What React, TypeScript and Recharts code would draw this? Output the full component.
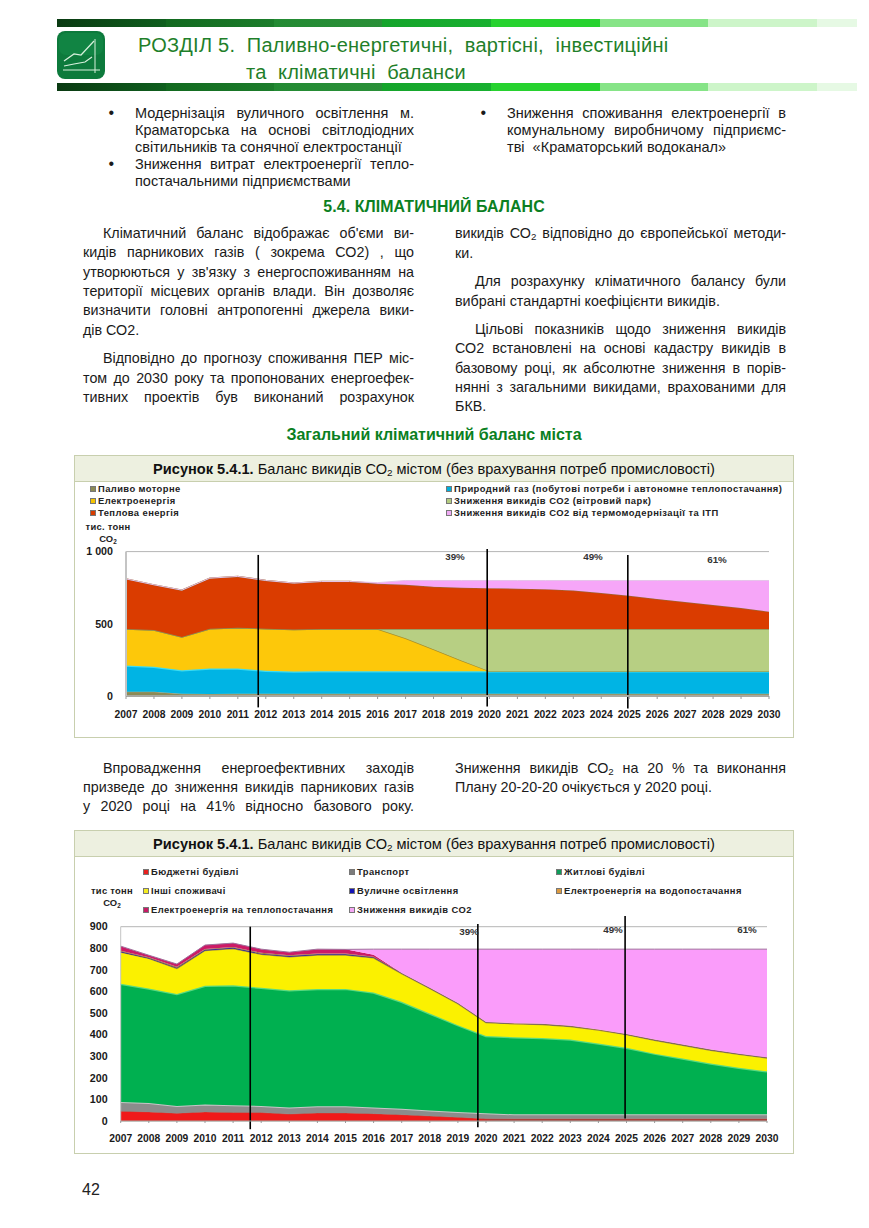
import React from 'react';
import { AreaChart, Area, XAxis, YAxis, CartesianGrid, ReferenceLine } from 'recharts';

const years = [2007,2008,2009,2010,2011,2012,2013,2014,2015,2016,2017,2018,2019,2020,2021,2022,2023,2024,2025,2026,2027,2028,2029,2030];

// Chart 1
const fuelMotor = [30,30,15,14,15,15,15,15,15,15,15,15,15,15,15,15,15,15,15,15,15,15,15,15];
const naturalGas = [181,172,164,176,175,160,155,157,157,157,157,157,157,157,157,157,157,157,157,157,157,157,157,157];
const electricity = [253,255,230,276,283,291,290,292,292,292,228,151,73,0,0,0,0,0,0,0,0,0,0,0];
const windCut = [0,0,0,0,0,0,0,0,0,0,64,141,219,292,292,292,292,292,292,292,292,292,292,292];
const heatEnergy = [347,313,324,350,355,334,322,329,329,313,306,292,286,283,279,276,267,249,230,207,187,166,145,120];
const thermoCut = [0,0,0,0,0,0,0,0,0,8,30,44,50,53,57,60,69,87,106,129,149,170,191,216];
const ticks1 = [0,500,1000];

// Chart 2
const budget = [45,42,36,42,39,39,32,37,37,34,29,23,17,11,10,10,10,10,10,10,10,10,10,10];
const transport = [43,41,34,34,34,31,30,31,31,29,28,26,25,25,21,21,21,21,21,21,21,21,21,21];
const residential = [548,531,518,550,556,547,544,543,544,532,495,449,402,358,357,354,346,328,308,281,258,235,216,199];
const others = [146,139,119,164,170,155,155,158,157,161,131,116,100,62,62,62,61,62,61,62,62,62,62,62];
const lighting = [3,2,3,3,3,3,3,3,3,2,1,1,1,1,1,1,1,1,1,1,1,1,1,1];
const waterPower = [4,3,4,4,4,4,4,4,4,3,2,2,2,2,2,2,2,2,2,2,2,2,2,2];
const heatPower = [21,10,13,18,18,17,14,20,19,9,0,0,0,0,0,0,0,0,0,0,0,0,0,0];
const totalCut = [0,0,0,0,0,0,0,0,0,26,110,179,249,337,343,346,355,372,393,419,442,465,484,501];
const ticks2 = [0,100,200,300,400,500,600,700,800,900];

const markers1 = [{ year: 2011.73, from: -79, to: 977 }, { year: 2019.92, from: -72, to: 1018 }, { year: 2024.95, from: -86, to: 977 }];
const markers2 = [{ year: 2011.61, from: -38, to: 900 }, { year: 2019.71, from: -29, to: 912 }, { year: 2024.95, from: 12, to: 949 }];

const rows1 = years.map((year, i) => ({ year, fuelMotor: fuelMotor[i], naturalGas: naturalGas[i], electricity: electricity[i], windCut: windCut[i], heatEnergy: heatEnergy[i], thermoCut: thermoCut[i] }));
const rows2 = years.map((year, i) => ({ year, budget: budget[i], transport: transport[i], residential: residential[i], others: others[i], lighting: lighting[i], waterPower: waterPower[i], heatPower: heatPower[i], totalCut: totalCut[i] }));

const SANS = '"Liberation Sans", Arial, sans-serif';
const xTick = { fontFamily: SANS, fontSize: 10.3, fontWeight: 700, fill: '#1a1a1a' };
const yTick = { fontFamily: SANS, fontSize: 10.7, fontWeight: 700, fill: '#1a1a1a' };
const BODY = 14.3;
const BULLET = 14.5;

const Sub = ({ children }: any) => <span style={{ fontSize: '68%', position: 'relative', top: '0.25em' }}>{children}</span>;

function T({ x, y, w, size = BODY, just = false, bold = false, color = '#1a1a1a', center = false, children, ls = 0 }: any) {
  return (
    <div style={{
      position: 'absolute', left: center ? x - 300 : x, top: y - 10, height: 20, lineHeight: '20px',
      width: center ? 600 : w, fontFamily: SANS, fontSize: size, fontWeight: bold ? 700 : 400, color,
      whiteSpace: just ? 'normal' : 'nowrap', textAlign: center ? 'center' : just ? 'justify' : 'left',
      textAlignLast: center ? 'center' : just ? 'justify' : 'left', letterSpacing: ls,
    }}>{children}</div>
  );
}

const barSegments = [
  { x: 57, w: 109, c: 'linear-gradient(90deg,#0a3a12,#0f5f1e)' },
  { x: 166, w: 108, c: 'linear-gradient(90deg,#12691f,#1c7d2b)' },
  { x: 274, w: 108, c: 'linear-gradient(90deg,#238a33,#2a9038)' },
  { x: 382, w: 109, c: 'linear-gradient(90deg,#15a42b,#18b030)' },
  { x: 491, w: 109, c: '#27d22f' },
  { x: 600, w: 108, c: '#86e487' },
  { x: 708, w: 109, c: '#cdf5c9' },
  { x: 817, w: 40, c: '#e6f9e4' },
];

function Bars({ y }: any) {
  return <>{barSegments.map((s) => <div key={s.x} style={{ position: 'absolute', left: s.x, top: y, width: s.w, height: 8, background: s.c }} />)}</>;
}

function Logo() {
  return (
    <svg style={{ position: 'absolute', left: 57, top: 31 }} width={48} height={48}>
      <rect x={0} y={0} width={48} height={48} rx={8} fill="#0d7a3c" />
      <rect x={2} y={2} width={44} height={22} rx={7} fill="#148a48" opacity={0.6} />
      <path d="M38 8 V42 M6 39 H43" stroke="#d8f0dc" strokeWidth={1} fill="none" />
      <path d="M7 30 L17 23 L24 24 L37 10" stroke="#d8f0dc" strokeWidth={1.2} fill="none" />
      <path d="M7 35 L17 33 L28 31 L35 26" stroke="#d8f0dc" strokeWidth={1.2} fill="none" />
    </svg>
  );
}

function Frame({ top, header, bottom, children }: any) {
  return (
    <>
      <div style={{ position: 'absolute', left: 74, top, width: 720, height: bottom - top, border: '1px solid #c8cfae', boxSizing: 'border-box' }} />
      <div style={{ position: 'absolute', left: 74, top, width: 720, height: header - top, background: '#edf0e0', border: '1px solid #c8cfae', boxSizing: 'border-box' }} />
      <T x={434} y={(top + header) / 2} center size={14.6} color="#111">
        <b>Рисунок 5.4.1.</b> Баланс викидів СО<Sub>2</Sub> містом (без врахування потреб промисловості)
      </T>
      {children}
    </>
  );
}

function Key({ x, y, color, label, ls = 0.42 }: any) {
  return (
    <>
      <div style={{ position: 'absolute', left: x, top: y - 3, width: 6, height: 6, background: color, border: '0.5px solid #777', boxSizing: 'border-box' }} />
      <T x={x + 8} y={y} size={9.4} bold color="#222" ls={ls}>{label}</T>
    </>
  );
}

export default function App() {
  return (
    <div style={{ position: 'absolute', left: 0, top: 0, width: 869, height: 1228, overflow: 'hidden', background: '#fff' }}>
      <Bars y={19} />
      <Bars y={83} />
      <Logo />
      <T x={138} y={45} w={540} size={20} color="#1f7f2a" ls={0.25}>РОЗДІЛ 5.&nbsp; Паливно-енергетичні,&nbsp; вартісні,&nbsp; інвестиційні</T>
      <T x={246} y={72} w={240} size={20} color="#1f7f2a" ls={0.2}>та&nbsp; кліматичні&nbsp; баланси</T>

      <T x={108.5} y={113} w={10} size={16}>•</T>
      <T x={135} y={113} w={279} size={BULLET} just>Модернізація вуличного освітлення м.</T>
      <T x={135} y={130} w={279} size={BULLET} just>Краматорська на основі світлодіодних</T>
      <T x={135} y={147} w={279} size={BULLET}>світильників та сонячної електростанції</T>
      <T x={108.5} y={164} w={10} size={16}>•</T>
      <T x={135} y={164} w={279} size={BULLET} just>Зниження витрат електроенергії тепло-</T>
      <T x={135} y={181} w={279} size={BULLET}>постачальними підприємствами</T>
      <T x={480.5} y={113} w={10} size={16}>•</T>
      <T x={507} y={113} w={279} size={BULLET} just>Зниження споживання електроенергії в</T>
      <T x={507} y={130} w={279} size={BULLET} just>комунальному виробничому підприємс-</T>
      <T x={507} y={147} w={279} size={BULLET}>тві&nbsp; «Краматорський водоканал»</T>

      <T x={434} y={207} center bold size={15.9} color="#0b7f22" ls={0.1}>5.4. КЛІМАТИЧНИЙ БАЛАНС</T>

      <T x={103} y={233} w={311} just>Кліматичний баланс відображає об'єми ви-</T>
      <T x={83} y={252} w={331} just>кидів парникових газів ( зокрема СО2) , що</T>
      <T x={83} y={272} w={331} just>утворюються у зв'язку з енергоспоживанням на</T>
      <T x={83} y={291} w={331} just>території місцевих органів влади. Він дозволяє</T>
      <T x={83} y={310} w={331} just>визначити головні антропогенні джерела вики-</T>
      <T x={83} y={330} w={331}>дів СО2.</T>
      <T x={103} y={358} w={311} just>Відповідно до прогнозу споживання ПЕР міс-</T>
      <T x={83} y={378} w={331} just>том до 2030 року та пропонованих енергоефек-</T>
      <T x={83} y={397} w={331} just>тивних проектів був виконаний розрахунок</T>

      <T x={455} y={233} w={331} just>викидів СО<Sub>2</Sub> відповідно до європейської методи-</T>
      <T x={455} y={253} w={331}>ки.</T>
      <T x={475} y={281} w={311} just>Для розрахунку кліматичного балансу були</T>
      <T x={455} y={301} w={331}>вибрані стандартні коефіцієнти викидів.</T>
      <T x={475} y={329} w={311} just>Цільові показників щодо зниження викидів</T>
      <T x={455} y={348} w={331} just>СО2 встановлені на основі кадастру викидів в</T>
      <T x={455} y={368} w={331} just>базовому році, як абсолютне зниження в порів-</T>
      <T x={455} y={387} w={331} just>нянні з загальними викидами, врахованими для</T>
      <T x={455} y={406} w={331}>БКВ.</T>

      <T x={434} y={435} center bold size={16} color="#0b7f22">Загальний кліматичний баланс міста</T>

      <Frame top={455} header={482} bottom={738}>
        <Key x={90} y={489} color="#8c8a55" label="Паливо моторне" />
        <Key x={90} y={500.5} color="#f5c400" label="Електроенергія" />
        <Key x={90} y={512.5} color="#d63c00" label="Теплова енергія" />
        <Key x={446} y={489} color="#00b0dc" label="Природний газ (побутові потреби і автономне теплопостачання)" ls={0.46} />
        <Key x={446} y={500.5} color="#b4cc80" label="Зниження викидів СО2  (вітровий парк)" ls={0.46} />
        <Key x={446} y={512.5} color="#f0aaf5" label="Зниження викидів СО2 від термомодернізації та ІТП" ls={0.46} />
        <T x={108} y={527} center bold size={9.4} color="#222" ls={0.3}>тис. тонн</T>
        <T x={108} y={539} center bold size={9.4} color="#222">СО<Sub>2</Sub></T>
        <div style={{ position: 'absolute', left: 75, top: 540 }}>
          <AreaChart width={718} height={197} data={rows1} margin={{ top: 11.6, right: 24, bottom: 18, left: 0 }}>
            <CartesianGrid vertical={false} stroke="#b5b5b5" />
            <XAxis dataKey="year" type="number" domain={[2007, 2030]} ticks={years} interval={0} tick={xTick} tickLine={{ stroke: '#999' }} axisLine={{ stroke: '#a8a8a0', strokeWidth: 2 }} tickSize={3} tickMargin={12} height={23} allowDecimals={false} />
            <YAxis type="number" domain={[0, 1000]} ticks={ticks1} width={51} tick={yTick} tickFormatter={(v: number) => (v === 1000 ? '1 000' : String(v))} tickLine={false} axisLine={{ stroke: '#c4c4c4', strokeWidth: 2 }} tickMargin={7} />
            <Area isAnimationActive={false} type="linear" stackId="a" dataKey="fuelMotor" name="Паливо моторне" fill="#8c8a55" stroke="#b4b090" dot={false} activeDot={false} fillOpacity={1} />
            <Area isAnimationActive={false} type="linear" stackId="a" dataKey="naturalGas" name="Природний газ" fill="#00b4e4" stroke="#3cdcf2" strokeWidth={2.5} dot={false} activeDot={false} fillOpacity={1} />
            <Area isAnimationActive={false} type="linear" stackId="a" dataKey="electricity" name="Електроенергія" fill="#fdc80a" stroke="#a8902c" strokeWidth={1.4} dot={false} activeDot={false} fillOpacity={1} />
            <Area isAnimationActive={false} type="linear" stackId="a" dataKey="windCut" name="Зниження викидів СО2 (вітровий парк)" fill="#b7cf83" stroke="#8d8f58" strokeWidth={1.4} dot={false} activeDot={false} fillOpacity={1} />
            <Area isAnimationActive={false} type="linear" stackId="a" dataKey="heatEnergy" name="Теплова енергія" fill="#da3c00" stroke="#a0622f" strokeWidth={1.4} dot={false} activeDot={false} fillOpacity={1} />
            <Area isAnimationActive={false} type="linear" stackId="a" dataKey="thermoCut" name="Зниження викидів СО2 від термомодернізації та ІТП" fill="#f6a6f8" stroke="#e6c4ea" dot={false} activeDot={false} fillOpacity={1} />
            {markers1.map((m) => (
              <ReferenceLine key={m.year} ifOverflow="visible" stroke="#000" strokeWidth={1.6} segment={[{ x: m.year, y: m.from }, { x: m.year, y: m.to }]} />
            ))}
          </AreaChart>
        </div>
        <T x={455} y={557} center size={9.8} bold color="#333">39%</T>
        <T x={593} y={557} center size={9.8} bold color="#333">49%</T>
        <T x={717} y={560} center size={9.8} bold color="#333">61%</T>
      </Frame>

      <T x={103} y={768} w={311} just>Впровадження енергоефективних заходів</T>
      <T x={83} y={787} w={331} just>призведе до зниження викидів парникових газів</T>
      <T x={83} y={806} w={331} just>у 2020 році на 41% відносно базового року.</T>
      <T x={455} y={768} w={331} just>Зниження викидів СО<Sub>2</Sub> на 20 % та виконання</T>
      <T x={455} y={787} w={331}>Плану 20-20-20 очікується у 2020 році.</T>

      <Frame top={830} header={857} bottom={1154}>
        <Key x={143} y={872} color="#e8201e" label="Бюджетні будівлі" />
        <Key x={143} y={891} color="#f4ec20" label="Інші споживачі" />
        <Key x={143} y={910} color="#c81a66" label="Електроенергія на теплопостачання" />
        <Key x={349} y={872} color="#7c7c7c" label="Транспорт" />
        <Key x={349} y={891} color="#1414b8" label="Вуличне освітлення" />
        <Key x={349} y={910} color="#f4a6f4" label="Зниження викидів СО2" />
        <Key x={556} y={872} color="#0f9c5a" label="Житлові будівлі" />
        <Key x={556} y={891} color="#dc9a40" label="Електроенергія на водопостачання" />
        <T x={112} y={891} center bold size={9.4} color="#222" ls={0.3}>тис тонн</T>
        <T x={112} y={903} center bold size={9.4} color="#222">СО<Sub>2</Sub></T>
        <div style={{ position: 'absolute', left: 75, top: 910 }}>
          <AreaChart width={718} height={243} data={rows2} margin={{ top: 16.7, right: 26, bottom: 10, left: 0 }}>
            <defs>
              <linearGradient id="budgetFill" x1="0" y1="0" x2="1" y2="0">
                <stop offset="0.55" stopColor="#f01a1a" />
                <stop offset="0.58" stopColor="#a83a3a" />
              </linearGradient>
            </defs>
            <CartesianGrid vertical={false} stroke="#b5b5b5" />
            <XAxis dataKey="year" type="number" domain={[2007, 2030]} ticks={years} interval={0} tick={xTick} tickLine={{ stroke: '#999' }} axisLine={{ stroke: '#a8a8a0', strokeWidth: 1 }} tickSize={2} tickMargin={12} height={22} allowDecimals={false} />
            <YAxis type="number" domain={[0, 900]} ticks={ticks2} width={45.7} tick={yTick} tickLine={false} axisLine={{ stroke: '#c4c4c4', strokeWidth: 1 }} tickMargin={7} />
            <Area isAnimationActive={false} type="linear" stackId="b" dataKey="budget" name="Бюджетні будівлі" fill="url(#budgetFill)" stroke="#c04a40" dot={false} activeDot={false} fillOpacity={1} />
            <Area isAnimationActive={false} type="linear" stackId="b" dataKey="transport" name="Транспорт" fill="#8c8c8c" stroke="#c6c6c6" strokeWidth={2} dot={false} activeDot={false} fillOpacity={1} />
            <Area isAnimationActive={false} type="linear" stackId="b" dataKey="residential" name="Житлові будівлі" fill="#00b050" stroke="#5ada80" strokeWidth={2.5} dot={false} activeDot={false} fillOpacity={1} />
            <Area isAnimationActive={false} type="linear" stackId="b" dataKey="others" name="Інші споживачі" fill="#fbf100" stroke="#a08a40" strokeWidth={1.4} dot={false} activeDot={false} fillOpacity={1} />
            <Area isAnimationActive={false} type="linear" stackId="b" dataKey="lighting" name="Вуличне освітлення" fill="#1414b8" stroke="none" dot={false} activeDot={false} fillOpacity={1} />
            <Area isAnimationActive={false} type="linear" stackId="b" dataKey="waterPower" name="Електроенергія на водопостачання" fill="#9a7040" stroke="none" dot={false} activeDot={false} fillOpacity={1} />
            <Area isAnimationActive={false} type="linear" stackId="b" dataKey="heatPower" name="Електроенергія на теплопостачання" fill="#cc1a66" stroke="none" dot={false} activeDot={false} fillOpacity={1} />
            <Area isAnimationActive={false} type="linear" stackId="b" dataKey="totalCut" name="Зниження викидів СО2" fill="#fa9cfa" stroke="#a0709c" dot={false} activeDot={false} fillOpacity={1} />
            {markers2.map((m) => (
              <ReferenceLine key={m.year} ifOverflow="visible" stroke="#000" strokeWidth={1.6} segment={[{ x: m.year, y: m.from }, { x: m.year, y: m.to }]} />
            ))}
          </AreaChart>
        </div>
        <T x={469} y={932} center size={9.8} bold color="#333">39%</T>
        <T x={613} y={930} center size={9.8} bold color="#333">49%</T>
        <T x={747} y={930} center size={9.8} bold color="#333">61%</T>
      </Frame>

      <T x={82} y={1190} w={30} size={16} color="#222">42</T>
    </div>
  );
}
